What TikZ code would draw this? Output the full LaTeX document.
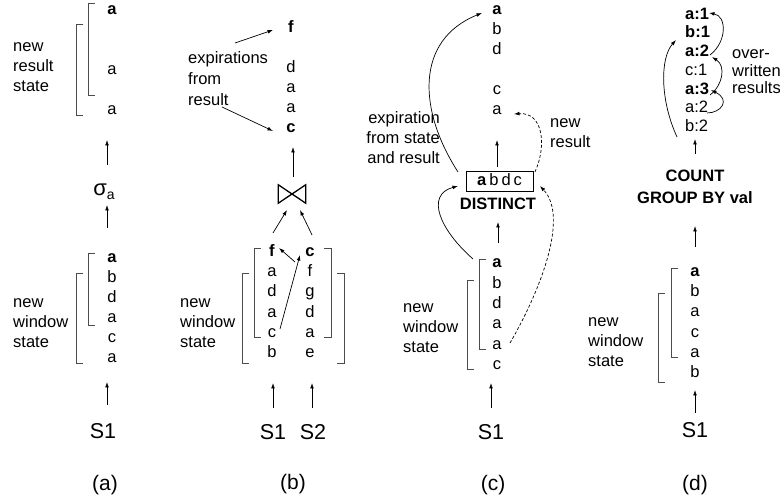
\documentclass[tikz,border=0pt]{standalone}
\usepackage{fontspec}
\setmainfont{Liberation Sans}
\usetikzlibrary{arrows.meta}
\begin{document}
\begin{tikzpicture}[x=1pt,y=-1pt,
  lt/.style={inner sep=0pt,text height=12pt,text depth=3.5pt,font=\fontsize{16.5}{20}\selectfont},
  lbl/.style={inner sep=0pt,anchor=west,align=left,font=\fontsize{16.5}{20}\selectfont},
  big/.style={inner sep=0pt,font=\fontsize{21.5}{24}\selectfont},
  captxt/.style={inner sep=0pt,font=\fontsize{21}{24}\selectfont},
  arr/.style={draw=black,line width=0.7pt,-{Latex[length=5.5pt,width=3.8pt]}},
  darr/.style={arr,dash pattern=on 3pt off 2pt},
  brk/.style={draw=black!70,line width=0.8pt},
]
\useasboundingbox (0,0) rectangle (780,502);

% ---------------- panel (a)
\node[lt] (aT1) at (112,10) {\textbf{a}};
\node[lt] (aT4) at (112,70) {a};
\node[lt] (aT6) at (112,110) {a};
\draw[brk] (95,3)--(88,3)--(88,95)--(95,95);
\draw[brk] (83,24)--(76,24)--(76,115)--(83,115);
\node[lbl] (aRes) at (13,67) {new\\result\\state};
\node[inner sep=0pt] (aSig) at (104,192) {\fontsize{22}{22}\selectfont σ\raisebox{-4pt}{\fontsize{14}{14}\selectfont a}};
\coordinate (aA1s) at (107,165); \coordinate (aA1e) at (107,140);
\draw[arr] (aA1s) -- (aA1e);
\coordinate (aA2s) at (107,228); \coordinate (aA2e) at (107,205);
\draw[arr] (aA2s) -- (aA2e);
\foreach \t [count=\i] in {\textbf{a},b,d,a,c,a}
  \node[lt] (aL\i) at (112,{238+20*\i}) {\t};
\draw[brk] (95,253)--(88,253)--(88,325)--(95,325);
\draw[brk] (83,273)--(76,273)--(76,363)--(83,363);
\node[lbl] (aWin) at (13,323) {new\\window\\state};
\node[big] (aS1) at (103,431) {S1};
\coordinate (aA3s) at (107,405); \coordinate (aA3e) at (107,382);
\draw[arr] (aA3s) -- (aA3e);
\node[captxt] (capA) at (105,485) {(a)};

% ---------------- panel (b)
\node[lt] (bT1) at (291,28) {\textbf{f}};
\node[lt] (bT3) at (291,68) {d};
\node[lt] (bT4) at (291,88) {a};
\node[lt] (bT5) at (291,108) {a};
\node[lt] (bT6) at (291,128) {\textbf{c}};
\node[lbl,font=\fontsize{16.5}{21}\selectfont] (bExp) at (188,79) {expirations\\from\\result};
\coordinate (bE1s) at (235,43); \coordinate (bE1e) at (273,30);
\draw[arr] (bE1s) -- (bE1e);
\coordinate (bE2s) at (222,107); \coordinate (bE2e) at (273,131);
\draw[arr] (bE2s) -- (bE2e);
\node[inner sep=0pt,minimum width=27pt,minimum height=18pt] (join) at (292,194) {};
\draw[line width=1.3pt,line join=miter] (join.north west)--(join.south east)--(join.north east)--(join.south west)--cycle;
\coordinate (bJs) at (293,177); \coordinate (bJe) at (293,147);
\draw[arr] (bJs) -- (bJe);
\coordinate (bJ1s) at (273,233); \coordinate (bJ1e) at (287,210);
\draw[arr] (bJ1s) -- (bJ1e);
\coordinate (bJ2s) at (312,235); \coordinate (bJ2e) at (300,210);
\draw[arr] (bJ2s) -- (bJ2e);
\foreach \t [count=\i] in {\textbf{f},a,d,a,c,b}
  \node[lt] (bL\i) at (272,{232+20.2*\i}) {\t};
\foreach \t [count=\i] in {\textbf{c},f,g,d,a,e}
  \node[lt] (bR\i) at (310,{232+20.2*\i}) {\t};
\draw[brk] (261,248)--(254,248)--(254,337)--(261,337);
\draw[brk] (324,248)--(331,248)--(331,337)--(324,337);
\draw[brk] (249,273)--(242,273)--(242,363)--(249,363);
\draw[brk] (337,273)--(344,273)--(344,363)--(337,363);
\coordinate (bX1s) at (280,329); \coordinate (bX1e) at (300,255);
\draw[arr] (bX1s) -- (bX1e);
\coordinate (bX2s) at (295,262); \coordinate (bX2e) at (279,248);
\draw[arr] (bX2s) -- (bX2e);
\node[lbl] (bWin) at (180,323) {new\\window\\state};
\coordinate (bA1s) at (273,408); \coordinate (bA1e) at (273,383);
\draw[arr] (bA1s) -- (bA1e);
\coordinate (bA2s) at (312,408); \coordinate (bA2e) at (312,383);
\draw[arr] (bA2s) -- (bA2e);
\node[big] (bS1) at (273,432) {S1};
\node[big] (bS2) at (313,432) {S2};
\node[captxt] (capB) at (293,484) {(b)};

% ---------------- panel (c)
\node[lt] (cT1) at (497,10) {\textbf{a}};
\node[lt] (cT2) at (497,30) {b};
\node[lt] (cT3) at (497,50) {d};
\node[lt] (cT5) at (497,90) {c};
\node[lt] (cT6) at (497,110) {a};
\node[lbl,anchor=east,align=right] (cExp) at (440,138) {expiration\\from state\\and result};
\node[lbl] (cNew) at (550,133) {new\\result};
\node[draw,line width=0.8pt,lt,minimum width=67pt,minimum height=20pt] (box) at (499.5,181) {\textbf{a}\hspace{3pt}b\hspace{3pt}d\hspace{3pt}c};
\node[lt] (dist) at (498,205) {\textbf{DISTINCT}};
\coordinate (cB1s) at (497,167); \coordinate (cB1e) at (497,140);
\draw[arr] (cB1s) -- (cB1e);
\coordinate (cB2s) at (498,243); \coordinate (cB2e) at (498,222);
\draw[arr] (cB2s) -- (cB2e);
\foreach \t [count=\i] in {\textbf{a},b,d,a,a,c}
  \node[lt] (cL\i) at (497,{243+20.4*\i}) {\t};
\draw[brk] (486,259)--(479,259)--(479,349)--(486,349);
\draw[brk] (474,280)--(467,280)--(467,369)--(474,369);
\node[lbl] (cWin) at (403,328) {new\\window\\state};
\coordinate (cA1s) at (491,408); \coordinate (cA1e) at (491,383);
\draw[arr] (cA1s) -- (cA1e);
\node[big] (cS1) at (491,432) {S1};
\node[captxt] (capC) at (493,485) {(c)};
% curves
\coordinate (cC1s) at (473,259); \coordinate (cC1e) at (458,186);
\draw[arr] (cC1s) .. controls (440,230) and (425,195) .. (cC1e);
\coordinate (cC2s) at (458,172); \coordinate (cC2e) at (482,13);
\draw[arr] (cC2s) .. controls (418,110) and (415,40) .. (cC2e);
\coordinate (cD1s) at (510,343); \coordinate (cD1e) at (540,186);
\draw[darr] (cD1s) .. controls (538,295) and (570,218) .. (cD1e);
\coordinate (cD2s) at (535,172); \coordinate (cD2e) at (514,114);
\draw[darr] (cD2s) .. controls (547,145) and (543,112) .. (cD2e);

% ---------------- panel (d)
\foreach \t [count=\i] in {\textbf{a:1},\textbf{b:1},\textbf{a:2},c:1,\textbf{a:3},a:2,b:2}
  \node[lt,anchor=west] (dT\i) at (685,{-3.7+18.7*\i}) {\t};
\node[lbl,font=\fontsize{16.5}{17.6}\selectfont] (dOver) at (732,72) {over-\\written\\results};
\coordinate (dL1s) at (677,137); \coordinate (dL1e) at (676,40);
\draw[arr] (dL1s) .. controls (660,100) and (660,58) .. (dL1e);
\coordinate (dR1s) at (710,55); \coordinate (dR1e) at (709,13);
\draw[arr] (dR1s) .. controls (727,42) and (727,16) .. (dR1e);
\coordinate (dR2s) at (710,95); \coordinate (dR2e) at (712,57);
\draw[arr] (dR2s) .. controls (723,85) and (726,66) .. (dR2e);
\coordinate (dR3s) at (707,113); \coordinate (dR3e) at (711,90);
\draw[arr] (dR3s) .. controls (721,113) and (731,100) .. (dR3e);
\coordinate (dB1s) at (695,154); \coordinate (dB1e) at (695,139);
\draw[arr] (dB1s) -- (dB1e);
\node[lbl,anchor=center,align=center,font=\fontsize{16.5}{22}\selectfont] (cnt) at (695,187) {\textbf{COUNT}\\\textbf{GROUP BY val}};
\coordinate (dB2s) at (695,247); \coordinate (dB2e) at (695,226);
\draw[arr] (dB2s) -- (dB2e);
\foreach \t [count=\i] in {\textbf{a},b,a,c,a,b}
  \node[lt] (dL\i) at (695,{252+20.2*\i}) {\t};
\draw[brk] (678,268)--(671,268)--(671,357)--(678,357);
\draw[brk] (665,293)--(658,293)--(658,382)--(665,382);
\node[lbl] (dWin) at (588,342) {new\\window\\state};
\coordinate (dA1s) at (695,413); \coordinate (dA1e) at (695,390);
\draw[arr] (dA1s) -- (dA1e);
\node[big] (dS1) at (695,430) {S1};
\node[captxt] (capD) at (695,485) {(d)};
\end{tikzpicture}
\end{document}
